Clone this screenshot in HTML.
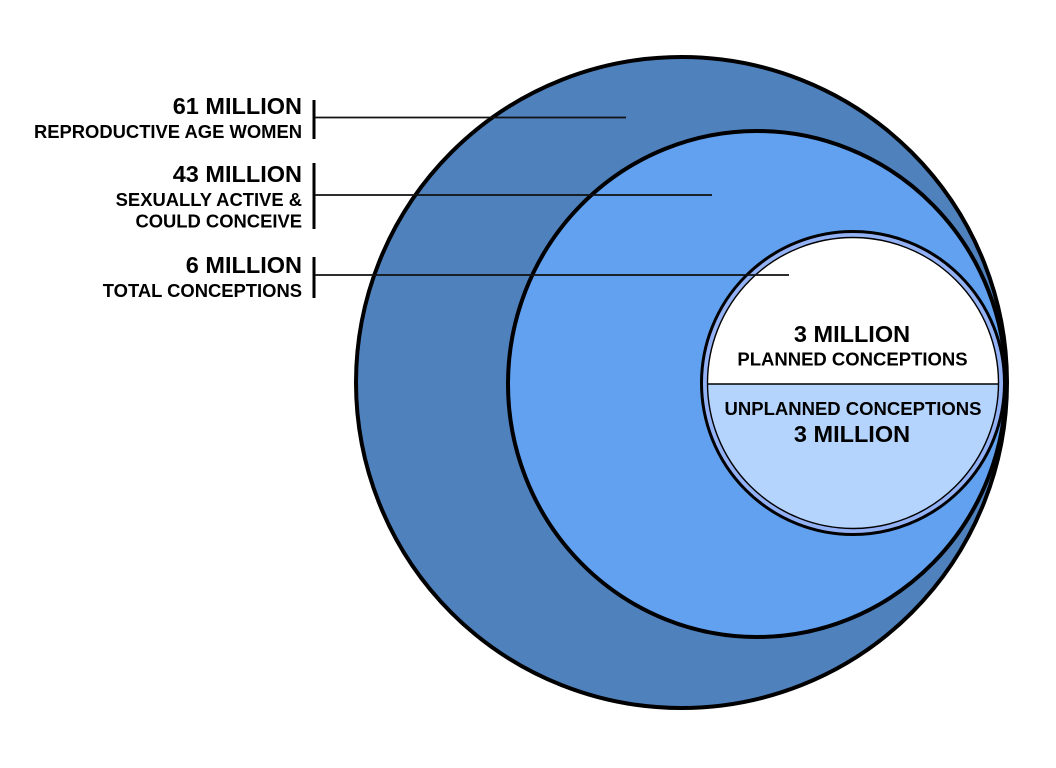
<!DOCTYPE html>
<html>
<head>
<meta charset="utf-8">
<style>
html,body{margin:0;padding:0;background:#fff;}
svg{display:block;}
text{font-family:"Liberation Sans",Arial,sans-serif;font-weight:bold;fill:#000;}
</style>
</head>
<body>
<svg width="1056" height="768" viewBox="0 0 1056 768" xmlns="http://www.w3.org/2000/svg">
  <defs>
    <clipPath id="inner">
      <circle cx="853" cy="383" r="146"/>
    </clipPath>
  </defs>
  <rect width="1056" height="768" fill="#fff"/>
  <!-- big circle -->
  <circle cx="681.5" cy="382.5" r="325.5" fill="#4f81bd" stroke="#000" stroke-width="4"/>
  <!-- middle circle -->
  <ellipse cx="757" cy="384" rx="249" ry="253" fill="#62a1ef" stroke="#000" stroke-width="4"/>
  <!-- inner circle -->
  <circle cx="853" cy="383" r="146" fill="#ffffff"/>
  <rect x="700" y="384" width="310" height="160" fill="#b4d4fd" clip-path="url(#inner)"/>
  <line x1="705" y1="384" x2="1001" y2="384" stroke="#000" stroke-width="1.5"/>
  <circle cx="853" cy="383" r="148.5" fill="none" stroke="#93b1f5" stroke-width="5"/>
  <circle cx="853" cy="383" r="145.5" fill="none" stroke="#000" stroke-width="1.4"/>
  <circle cx="853" cy="383" r="151.5" fill="none" stroke="#000" stroke-width="3"/>

  <!-- brackets -->
  <rect x="312.5" y="100" width="3" height="39" fill="#000"/>
  <rect x="312.5" y="163" width="3" height="66" fill="#000"/>
  <rect x="312.5" y="257" width="3" height="41" fill="#000"/>
  <line x1="315" y1="117.5" x2="626" y2="117.5" stroke="#111" stroke-width="1.8"/>
  <line x1="315" y1="195" x2="712" y2="195" stroke="#111" stroke-width="1.8"/>
  <line x1="315" y1="275" x2="789" y2="275" stroke="#111" stroke-width="1.8"/>

  <!-- left labels -->
  <text x="302" y="114" text-anchor="end" font-size="23.5">61 MILLION</text>
  <text x="302" y="138" text-anchor="end" font-size="18.4">REPRODUCTIVE AGE WOMEN</text>
  <text x="302" y="182" text-anchor="end" font-size="23.5">43 MILLION</text>
  <text x="302" y="206" text-anchor="end" font-size="18.4">SEXUALLY ACTIVE &amp;</text>
  <text x="302" y="227.5" text-anchor="end" font-size="18.4">COULD CONCEIVE</text>
  <text x="302" y="273" text-anchor="end" font-size="23.5">6 MILLION</text>
  <text x="302" y="297" text-anchor="end" font-size="18.4">TOTAL CONCEPTIONS</text>

  <!-- inner labels -->
  <text x="852" y="342" text-anchor="middle" font-size="23.5">3 MILLION</text>
  <text x="852.5" y="365.5" text-anchor="middle" font-size="18.5">PLANNED CONCEPTIONS</text>
  <text x="853" y="415" text-anchor="middle" font-size="18.5">UNPLANNED CONCEPTIONS</text>
  <text x="852" y="442" text-anchor="middle" font-size="23.5">3 MILLION</text>
</svg>
</body>
</html>
